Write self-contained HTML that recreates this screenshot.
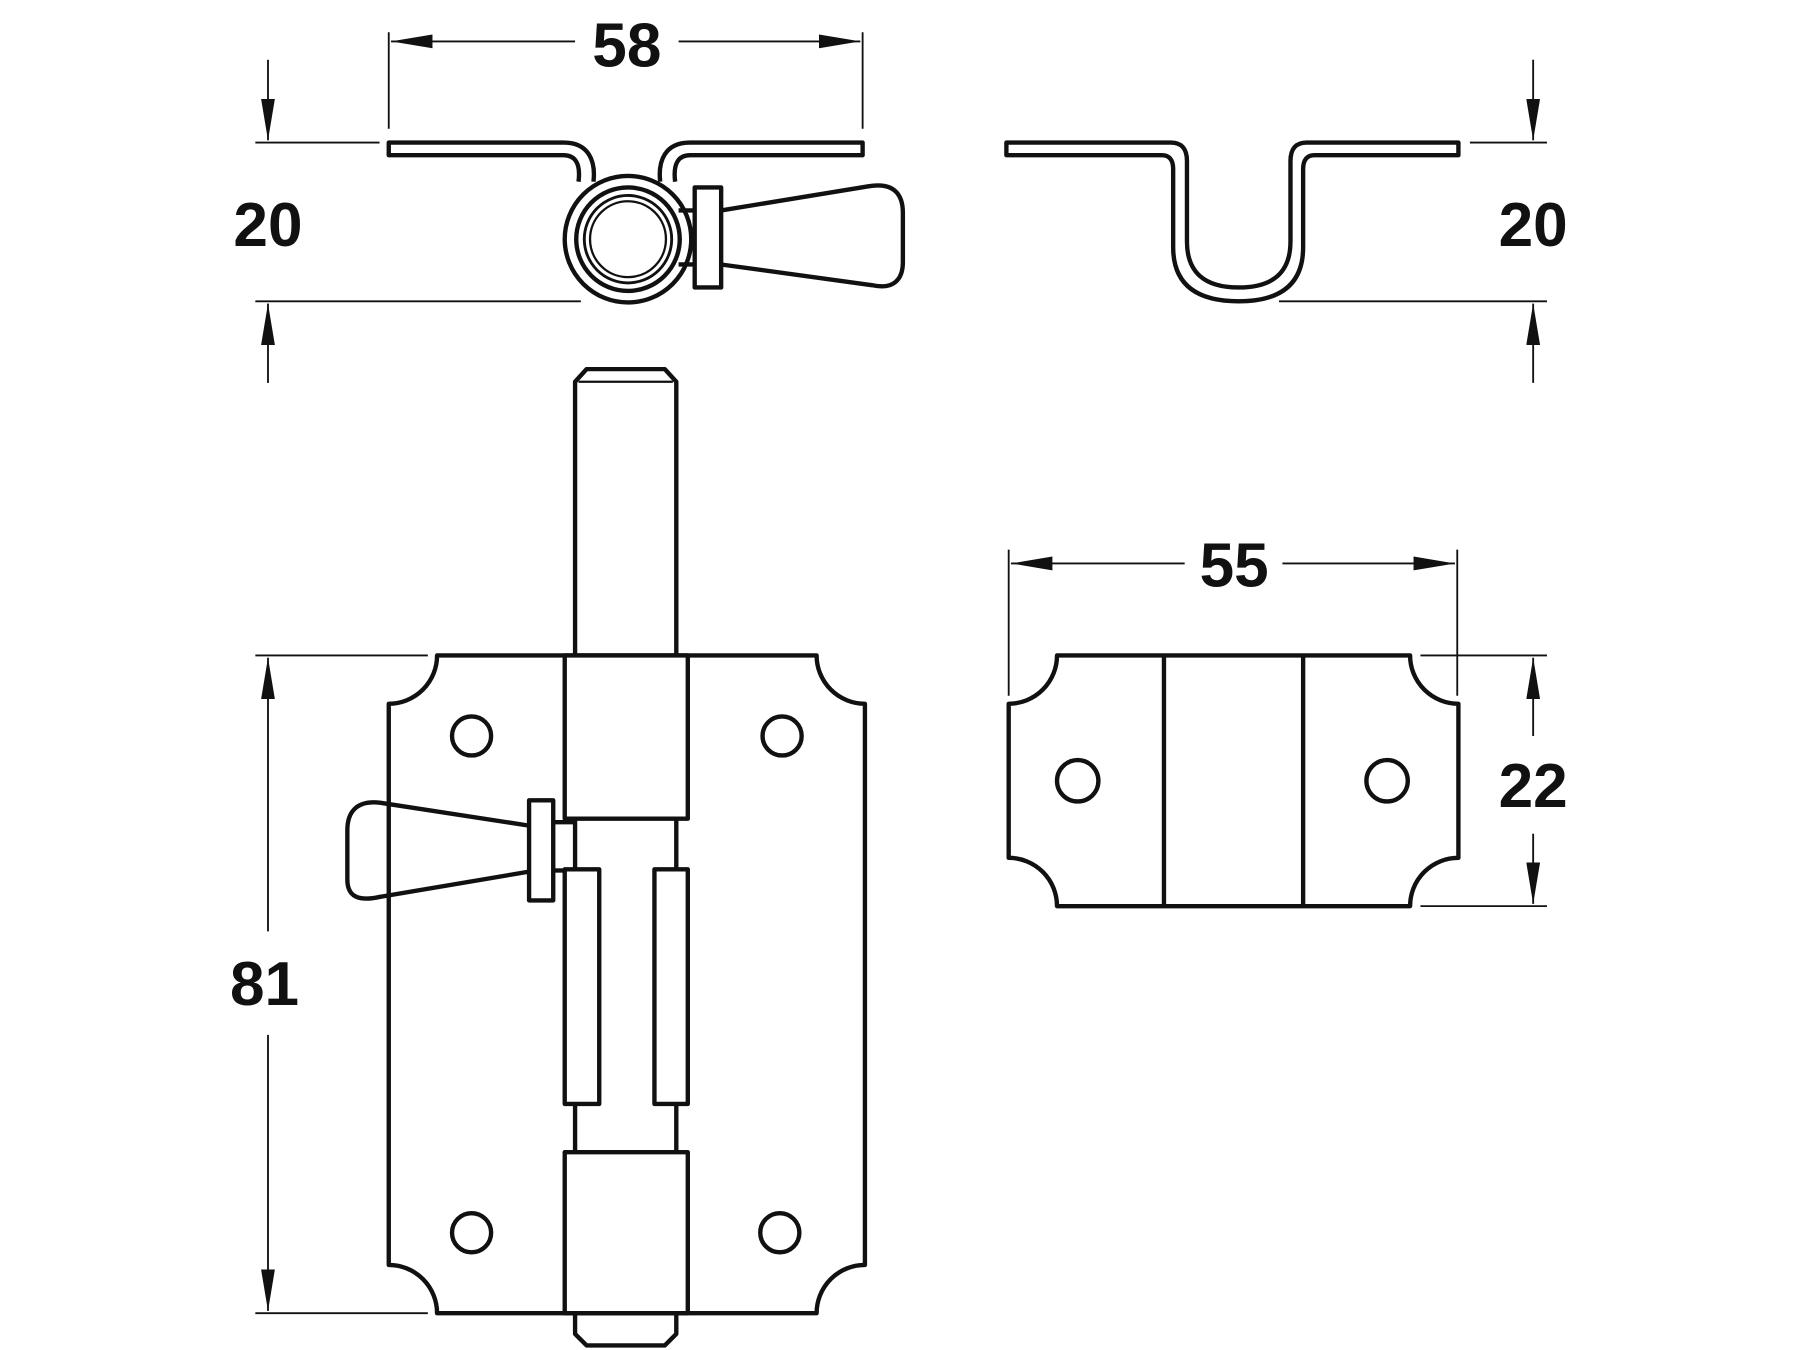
<!DOCTYPE html>
<html><head><meta charset="utf-8"><style>
html,body{margin:0;padding:0;background:#fff;}
svg{display:block;}
text{font-family:"Liberation Sans",sans-serif;font-weight:bold;font-size:54px;fill:#111;}
</style></head><body>
<svg width="1800" height="1350" viewBox="0 0 1565 1174" preserveAspectRatio="none" xmlns="http://www.w3.org/2000/svg">
<defs>
<marker id="a" viewBox="0 0 36 12" refX="36" refY="6" markerWidth="36" markerHeight="12" markerUnits="userSpaceOnUse" orient="auto"><path d="M0,0 L36,6 L0,12 Z" fill="#111"/></marker>
</defs>
<g stroke="#111" fill="none" stroke-width="1.6">
<line x1="338" y1="28" x2="338" y2="112"/><line x1="750" y1="28" x2="750" y2="112"/>
<line x1="500" y1="36" x2="340" y2="36" marker-end="url(#a)"/><line x1="590" y1="36" x2="748" y2="36" marker-end="url(#a)"/>
<line x1="222" y1="124" x2="330" y2="124"/><line x1="222" y1="262" x2="505" y2="262"/>
<line x1="233" y1="52" x2="233" y2="122" marker-end="url(#a)"/><line x1="233" y1="333" x2="233" y2="264" marker-end="url(#a)"/>
<line x1="1278" y1="124" x2="1345" y2="124"/><line x1="1112" y1="262" x2="1345" y2="262"/>
<line x1="1333" y1="52" x2="1333" y2="122" marker-end="url(#a)"/><line x1="1333" y1="333" x2="1333" y2="264" marker-end="url(#a)"/>
<line x1="222" y1="570" x2="372" y2="570"/><line x1="222" y1="1142" x2="372" y2="1142"/>
<line x1="233" y1="810" x2="233" y2="572" marker-end="url(#a)"/><line x1="233" y1="900" x2="233" y2="1140" marker-end="url(#a)"/>
<line x1="877" y1="478" x2="877" y2="605"/><line x1="1267" y1="478" x2="1267" y2="605"/>
<line x1="1030" y1="490" x2="879" y2="490" marker-end="url(#a)"/><line x1="1115" y1="490" x2="1265" y2="490" marker-end="url(#a)"/>
<line x1="1235" y1="570" x2="1345" y2="570"/><line x1="1235" y1="788" x2="1345" y2="788"/>
<line x1="1333" y1="640" x2="1333" y2="572" marker-end="url(#a)"/><line x1="1333" y1="725" x2="1333" y2="786" marker-end="url(#a)"/>
</g>
<g stroke="#111" fill="none" stroke-width="3.8" stroke-linejoin="round">
<path d="M503,158 C505,142 500,135 490,135 L338,135 L338,124 L490,124 C512,124 518,140 516,158"/>
<path d="M587,158 C585,142 590,135 600,135 L750,135 L750,124 L600,124 C578,124 572,140 574,158"/>
<circle cx="546" cy="208" r="55"/>
<circle cx="546" cy="208" r="45"/>
<circle cx="546" cy="208" r="38" stroke-width="2.5"/>
<circle cx="546" cy="208" r="33" stroke-width="2"/>
<line x1="590" y1="183" x2="604" y2="183"/><line x1="590" y1="230" x2="604" y2="230"/>
<rect x="604" y="163" width="23" height="87" fill="#fff"/>
<path d="M627,183 L755,162 C778,158 785,170 785,185 L785,228 C785,244 776,252 758,248 L627,230"/>
<path d="M875,124 L1018,124 Q1032,124 1032,140 L1032,210 Q1032,250 1077,250 Q1122,250 1122,210 L1122,140 Q1122,124 1136,124 L1268,124 L1268,135 L1143,135 Q1133,135 1133,147 L1133,215 Q1133,262 1077,262 Q1020,262 1020,215 L1020,147 Q1020,135 1010,135 L875,135 Z"/>
<path d="M380,570 L710,570 A42,42 0 0 0 752,612 L752,1100 A42,42 0 0 0 710,1142 L380,1142 A42,42 0 0 0 338,1100 L338,612 A42,42 0 0 0 380,570 Z"/>
<circle cx="410" cy="640" r="17"/><circle cx="680" cy="640" r="17"/>
<circle cx="410" cy="1072" r="17"/><circle cx="678" cy="1072" r="17"/>
<path d="M500,570 L500,332 L510,321 L578,321 L588,332 L588,570"/>
<line x1="503" y1="332" x2="585" y2="332" stroke-width="2"/>
<rect x="491" y="570" width="107" height="142" fill="#fff"/>
<line x1="500" y1="712" x2="500" y2="1002"/><line x1="588" y1="712" x2="588" y2="1002"/>
<rect x="491" y="756" width="30" height="204" fill="#fff"/>
<rect x="569" y="756" width="29" height="204" fill="#fff"/>
<rect x="491" y="1002" width="107" height="140" fill="#fff"/>
<path d="M500,1142 L500,1160 L510,1170 L578,1170 L588,1160 L588,1142"/>
<line x1="481" y1="715" x2="500" y2="715"/><line x1="481" y1="757" x2="491" y2="757"/>
<rect x="460" y="696" width="21" height="87" fill="#fff"/>
<path d="M460,718 L330,698 C310,696 302,706 302,722 L302,765 C302,780 312,784 330,780 L460,758"/>
<path d="M919,570 L1226,570 A42,42 0 0 0 1268,612 L1268,746 A42,42 0 0 0 1226,788 L919,788 A42,42 0 0 0 877,746 L877,612 A42,42 0 0 0 919,570 Z"/>
<line x1="1012" y1="570" x2="1012" y2="788"/><line x1="1133" y1="570" x2="1133" y2="788"/>
<circle cx="937" cy="679" r="18"/><circle cx="1206" cy="679" r="18"/>
</g>
<g text-anchor="middle">
<text x="545" y="58">58</text>
<text x="233" y="214">20</text>
<text x="1333" y="214">20</text>
<text x="230" y="874">81</text>
<text x="1073" y="510">55</text>
<text x="1333" y="702">22</text>
</g>
</svg>
</body></html>
